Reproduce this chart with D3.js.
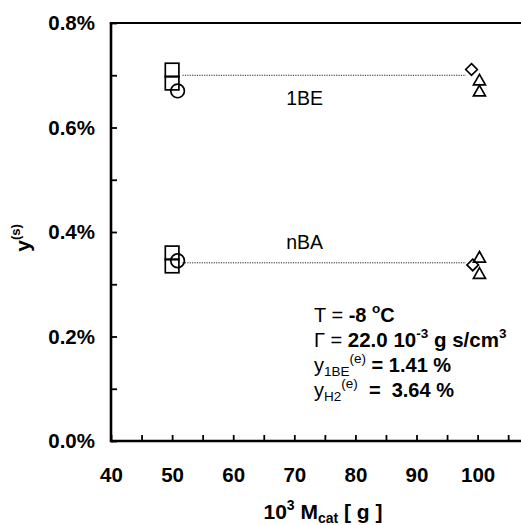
<!DOCTYPE html>
<html><head><meta charset="utf-8">
<script src="https://cdn.jsdelivr.net/npm/d3@7"></script>
<style>
html,body{margin:0;padding:0;background:#fff;}
svg{display:block;font-family:"Liberation Sans",Arial,sans-serif;}
text{white-space:pre;}
</style></head>
<body><svg id="c" width="521" height="525"></svg>
<script>
// ---- data ----
const xMajorTicks = [40, 50, 60, 70, 80, 90, 100];
const xMinorTicks = [45, 55, 65, 75, 85, 95, 105];
const yMajorTicks = [0, 0.002, 0.004, 0.006, 0.008];
const yMinorTicks = [0.001, 0.003, 0.005, 0.007];

const species = ["1BE", "nBA"];
const meanValues = [0.00700, 0.00341];
const meanLineX = [51.7, 98.1];

const squareX = [50, 50, 50, 50];
const squareY = [0.00710, 0.00685, 0.00360, 0.00335];
const circleX = [50.9, 50.9];
const circleY = [0.00670, 0.00345];
const diamondX = [99.0, 99.2];
const diamondY = [0.00711, 0.00337];
const triangleX = [100.3, 100.3, 100.3, 100.3];
const triangleY = [0.00691, 0.00670, 0.00352, 0.00321];

// ---- chart ----
const svg = d3.select("#c");
const W = 521, H = 525;
const m = {l: 111, t: 23, b: 441};
const x = d3.scaleLinear().domain([40, 107.1]).range([m.l, W]);
const y = d3.scaleLinear().domain([0, 0.008]).range([m.b, m.t]);
const FF = "Liberation Sans, Arial, sans-serif";

// dotted mean lines
meanValues.forEach((v, i) => {
  svg.append("line")
    .attr("x1", x(meanLineX[0])).attr("x2", x(meanLineX[1]))
    .attr("y1", y(v)).attr("y2", y(v))
    .attr("stroke", "#222").attr("stroke-width", 1)
    .attr("stroke-dasharray", "1.2,1.2");
});

// markers
const mk = svg.append("g").attr("fill", "none").attr("stroke", "#000").attr("stroke-width", 1.7);
squareX.forEach((xv, i) => {
  mk.append("rect").attr("x", x(xv) - 6.8).attr("y", y(squareY[i]) - 6.8)
    .attr("width", 13.6).attr("height", 13.6);
});
circleX.forEach((xv, i) => {
  mk.append("circle").attr("cx", x(xv)).attr("cy", y(circleY[i])).attr("r", 6.8);
});
diamondX.forEach((xv, i) => {
  mk.append("path").attr("transform", `translate(${x(xv)},${y(diamondY[i])})`)
    .attr("d", "M0,-5.8L5.8,0L0,5.8L-5.8,0Z");
});
triangleX.forEach((xv, i) => {
  mk.append("path").attr("transform", `translate(${x(xv)},${y(triangleY[i])})`)
    .attr("d", "M0,-5.6L6,5L-6,5Z");
});

// species labels
svg.append("text").attr("x", x(71.7)).attr("y", y(meanValues[0]) + 30)
  .attr("text-anchor", "middle").attr("font-size", 19.5).text(species[0]);
svg.append("text").attr("x", x(71.7)).attr("y", y(meanValues[1]) - 14)
  .attr("text-anchor", "middle").attr("font-size", 19.5).text(species[1]);

// axes
const xa = svg.append("g").attr("transform", `translate(0,${m.b})`)
  .call(d3.axisBottom(x).tickValues(xMajorTicks.concat(xMinorTicks))
    .tickSizeInner(-6).tickSizeOuter(0).tickPadding(26)
    .tickFormat(d => xMajorTicks.includes(d) ? d3.format("d")(d) : ""));
xa.select(".domain").remove();
xa.selectAll("line").attr("stroke-width", 1.8);
xa.selectAll("text").attr("font-size", 20.5).attr("font-weight", "bold").attr("font-family", FF).attr("fill", "#000");

const ya = svg.append("g").attr("transform", `translate(${m.l},0)`)
  .call(d3.axisLeft(y).tickValues(yMajorTicks.concat(yMinorTicks))
    .tickSizeInner(-6).tickSizeOuter(0).tickPadding(16)
    .tickFormat(d => yMajorTicks.includes(d) ? d3.format(".1%")(d) : ""));
ya.select(".domain").remove();
ya.selectAll("line").attr("stroke-width", 1.8);
ya.selectAll("text").attr("font-size", 20.5).attr("font-weight", "bold").attr("font-family", FF).attr("fill", "#000");

// frame lines
svg.append("line").attr("x1", m.l).attr("x2", W).attr("y1", m.b).attr("y2", m.b).attr("stroke", "#000").attr("stroke-width", 2.6);
svg.append("line").attr("x1", m.l).attr("x2", m.l).attr("y1", m.t).attr("y2", m.b + 1.3).attr("stroke", "#000").attr("stroke-width", 2.6);
svg.append("line").attr("x1", m.l - 1.3).attr("x2", W).attr("y1", m.t).attr("y2", m.t).attr("stroke", "#000").attr("stroke-width", 2);

// axis titles
const xt = svg.append("text").attr("x", 323).attr("y", 519).attr("text-anchor", "middle")
  .attr("font-size", 21).attr("font-weight", "bold");
xt.append("tspan").text("10");
xt.append("tspan").attr("font-size", 14).attr("dy", -9).text("3");
xt.append("tspan").attr("dy", 9).text(" M");
xt.append("tspan").attr("font-size", 14).attr("dy", 4).text("cat");
xt.append("tspan").attr("dy", -4).text(" [ g ]");

const yt = svg.append("text").attr("transform", "translate(30,238) rotate(-90)")
  .attr("text-anchor", "middle").attr("font-size", 21).attr("font-weight", "bold");
yt.append("tspan").text("y");
yt.append("tspan").attr("font-size", 13).attr("dy", -10).text("(s)");

// annotation block
const ax = 314;
const lines = [322, 347, 372, 397];
const fs = 20;
function line(yy, parts) {
  const t = svg.append("text").attr("x", ax).attr("y", yy).attr("font-size", fs);
  let cur = 0;
  parts.forEach(p => {
    const off = p.sup ? -9 : p.sub ? 4 : 0;
    t.append("tspan").attr("dy", off - cur)
      .attr("font-weight", p.b ? "bold" : "normal")
      .attr("font-size", p.sz || ((p.sup || p.sub) ? 13.5 : fs))
      .text(p.t);
    cur = off;
  });
}
line(lines[0], [{t: "T = "}, {t: "-8 ", b: true}, {t: "o", b: true, sup: true}, {t: "C", b: true}]);
line(lines[1], [{t: "\u0393 = "}, {t: "22.0 10", b: true, sz: 20.5}, {t: "-3", b: true, sup: true}, {t: " g s/cm", b: true, sz: 20.5}, {t: "3", b: true, sup: true}]);
line(lines[2], [{t: "y"}, {t: "1BE", sub: true}, {t: "(e)", sup: true}, {t: " = 1.41 %", b: true}]);
line(lines[3], [{t: "y"}, {t: "H2", sub: true}, {t: "(e)", sup: true}, {t: "  =  3.64 %", b: true}]);
</script></body></html>
